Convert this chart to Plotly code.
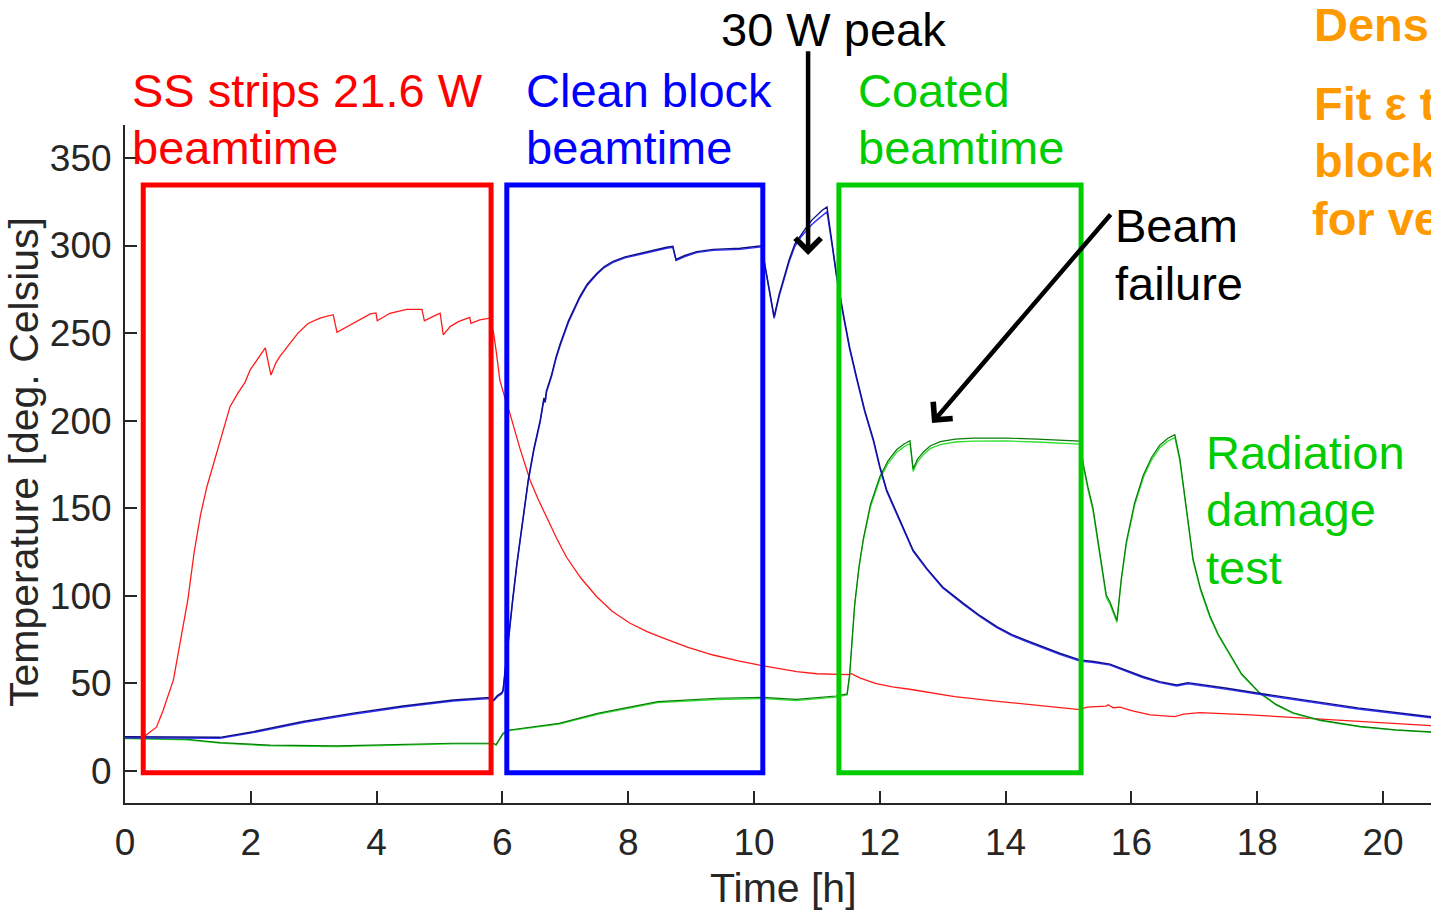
import plotly.graph_objects as go

# ---------------- data ----------------
red_t = [0, 0.3, 0.5, 0.6, 0.77, 0.9, 1.0, 1.1, 1.2, 1.3,
         1.38, 1.45, 1.51, 1.6, 1.67, 1.8, 1.91, 1.99, 2.1, 2.23,
         2.32, 2.4, 2.46, 2.55, 2.62, 2.75, 2.91, 3.1, 3.31, 3.37,
         3.5, 3.63, 3.78, 3.90, 3.99, 4.01, 4.21, 4.48, 4.72, 4.76,
         4.9, 5.01, 5.06, 5.17, 5.3, 5.40, 5.48, 5.50, 5.64, 5.80,
         5.86, 5.9, 5.96, 6.04, 6.12, 6.28, 6.44, 6.57, 6.70, 6.86,
         7.02, 7.25, 7.50, 7.75, 8.03, 8.3, 8.56, 8.95, 9.35, 9.75,
         10.15, 10.68, 11.0, 11.31, 11.5, 11.55, 11.69, 11.93, 12.2, 12.5,
         12.85, 13.19, 13.8, 14.44, 14.7, 15.18, 15.29, 15.6, 15.63, 15.71,
         15.82, 16.0, 16.3, 16.69, 16.83, 17.09, 17.89, 18.95, 20.8]
red_y = [19.5, 19.5, 25, 34, 52, 77, 98, 125, 146, 162,
         172, 180, 187, 199, 208, 216, 222, 229, 235, 241.5,
         226, 233, 236.5, 241, 244, 250, 255.5, 258.5, 260.5, 250.5,
         253, 255.5, 258.5, 261, 261.5, 257, 261.3, 263.5, 263.5, 257,
         259.5, 261.3, 249, 253.7, 256.5, 258, 259, 255.5, 257.5, 258.5,
         250, 240, 223, 213, 204, 184, 166, 155, 145, 133,
         122, 110, 99.5, 91, 84.3, 79.5, 75.8, 70.5, 66.2, 62.8,
         60, 56.7, 55.5, 55, 55, 55.5, 53, 50, 48, 46.5,
         44.3, 42.4, 40, 37.7, 36.4, 35, 36.4, 37, 37.8, 36.1,
         36.4, 34.5, 32, 31, 32.5, 33.3, 32, 29.7, 25.8]

blue_t = [0, 0.5, 1.0, 1.51, 2.04, 2.83, 3.63, 4.42, 5.22, 5.80,
          5.86, 5.92, 5.99, 6.01, 6.05, 6.09, 6.16, 6.23, 6.32, 6.41,
          6.5, 6.60, 6.66, 6.68, 6.70, 6.78, 6.85, 6.92, 7.05, 7.23,
          7.35, 7.50, 7.62, 7.76, 7.95, 8.19, 8.4, 8.61, 8.71, 8.76,
          8.9, 9.09, 9.35, 9.78, 10.12, 10.32, 10.4, 10.47, 10.56, 10.65,
          10.75, 10.84, 10.92, 11.0, 11.08, 11.16, 11.25, 11.31, 11.42, 11.52,
          11.63, 11.76, 11.9, 12.0, 12.11, 12.2, 12.32, 12.42, 12.53, 12.75,
          13.0, 13.33, 13.6, 13.86, 14.1, 14.31, 14.7, 14.86, 15.18, 15.4,
          15.66, 15.77, 16.0, 16.19, 16.45, 16.72, 16.9, 17.2, 17.52, 18.0,
          18.57, 19.6, 20.8]
blue_a = [19.5, 19.3, 19.0, 19.2, 22.4, 28.2, 33, 37.1, 40.5, 41.9,
          40.5, 43, 44.7, 46, 60, 74.8, 97, 118.6, 143, 166,
          184, 200, 213, 211, 217, 226, 236, 244, 257, 270.8,
          278, 284, 288, 291, 293.5, 295.6, 297.3, 299, 299.5, 292,
          294.3, 296.5, 297.8, 298.4, 299.8, 259.4, 272, 281, 292, 301,
          306.5, 310.8, 314.5, 317.5, 320, 322, 300, 284, 261, 242,
          225, 206, 189, 174, 160.4, 153, 143, 134.5, 126, 115.5,
          105, 95.7, 88.5, 82.4, 77.8, 74.8, 69.5, 67.2, 63.4, 62.5,
          61, 59.5, 56.5, 53.8, 51, 49.1, 50.4, 49, 47.2, 44.5,
          41.5, 36, 30.8]
blue_b = [18.9, 18.8, 18.6, 18.7, 21.9, 27.6, 32.4, 36.5, 39.9, 41.3,
          40.0, 42.4, 44.1, 45.5, 58.5, 73.5, 95.8, 117.5, 142, 165,
          183, 199, 212, 210.3, 216, 225, 235, 243, 256, 270,
          277.3, 283.4, 287.4, 290.4, 292.9, 295, 296.7, 298.4, 298.9, 291.4,
          293.7, 295.9, 297.2, 297.8, 299.2, 258.4, 271, 280, 290.8, 299.5,
          305, 308.8, 312, 314.5, 317, 319.3, 298, 282.5, 259.8, 240.8,
          224, 205, 188, 173, 159.5, 152.2, 142.3, 133.8, 125.4, 115,
          104.4, 95.1, 87.9, 81.8, 77.2, 74.2, 68.9, 66.6, 62.8, 61.9,
          60.4, 58.9, 55.9, 53.2, 50.4, 48.5, 49.8, 48.4, 46.6, 43.9,
          40.9, 35.4, 30.2]

green_t = [0, 0.98, 1.51, 2.31, 3.37, 4.42, 5.22, 5.86, 5.9, 6.01,
           6.11, 6.9, 7.53, 8.47, 9.41, 10.14, 10.67, 11.3, 11.48, 11.52,
           11.56, 11.6, 11.67, 11.74, 11.85, 12.0, 12.13, 12.27, 12.38, 12.48,
           12.53, 12.6, 12.69, 12.8, 12.96, 13.2, 13.49, 14.02, 14.5, 15.18,
           15.24, 15.31, 15.39, 15.5, 15.6, 15.66, 15.72, 15.77, 15.84, 15.92,
           16.05, 16.19, 16.32, 16.45, 16.58, 16.69, 16.77, 16.87, 16.98, 17.1,
           17.25, 17.38, 17.52, 17.75, 18.04, 18.3, 18.57, 19.0, 19.63, 20.2,
           20.8]
green_a = [18.7, 18.1, 16.2, 14.7, 14.3, 15.2, 15.8, 15.8, 15.0, 21.5,
           23.4, 27.2, 33, 39.6, 41.5, 42, 40.9, 42.8, 44, 55,
           75, 95, 117, 133, 152, 168, 177, 183.5, 186.5, 188.5,
           172.5, 178, 182, 185.5, 188, 189.5, 190, 190, 189.5, 188.3,
           174.5, 162, 150, 125, 100.5, 96.5, 91, 86, 110, 131,
           153, 169, 179, 186, 190, 192, 178.5, 150, 121, 104,
           88.5, 78, 69.5, 55.5, 44.6, 38, 33.2, 29, 25.4, 23.5,
           22.2]
green_b = [18.4, 17.8, 15.9, 14.3, 13.9, 14.8, 15.4, 15.4, 14.7, 21.0,
           23.0, 26.7, 32.4, 39.0, 40.8, 41.3, 40.2, 42.1, 43.4, 54,
           74, 94, 116, 132, 150.5, 166.5, 175.5, 182, 185, 186.8,
           171, 176.5, 180.5, 184, 186.3, 187.8, 188.3, 188.4, 187.8, 186.6,
           173, 160.5, 148.5, 123.8, 99, 95, 89.8, 84.8, 109, 129.5,
           151.5, 167.5, 177.5, 184.5, 188.3, 190.3, 177, 149, 120, 103,
           87.5, 77.3, 68.8, 55, 44.2, 37.7, 32.8, 28.7, 25.2, 23.3,
           22.0]

x_ticks = [0, 2, 4, 6, 8, 10, 12, 14, 16, 18, 20]
y_ticks = [0, 50, 100, 150, 200, 250, 300, 350]

# highlighted beamtime windows: (t_start, t_end, T_low, T_high, colour)
boxes = [(0.29, 5.82, -1.1, 334.6, "#FF0000"),
         (6.07, 10.14, -1.1, 334.6, "#0000FF"),
         (11.35, 15.2, -1.1, 334.6, "#00CC00")]

X_RANGE = [0, 20.763]
Y_RANGE = [-18.3, 368.8]

FONT = "Liberation Sans, Arial, Helvetica, sans-serif"
AX = "#262626"

fig = go.Figure()
fig.add_trace(go.Scatter(x=red_t, y=red_y, mode="lines", line=dict(color="#FF1a1a", width=1.3)))
fig.add_trace(go.Scatter(x=green_t, y=green_b, mode="lines", line=dict(color="#2ee02e", width=1.3)))
fig.add_trace(go.Scatter(x=green_t, y=green_a, mode="lines", line=dict(color="#0a7a0a", width=1.2)))
fig.add_trace(go.Scatter(x=blue_t, y=blue_b, mode="lines", line=dict(color="#3030ff", width=1.4)))
fig.add_trace(go.Scatter(x=blue_t, y=blue_a, mode="lines", line=dict(color="#10108a", width=1.4)))

for x0, x1, y0, y1, c in boxes:
    fig.add_shape(type="rect", xref="x", yref="y", x0=x0, x1=x1, y0=y0, y1=y1,
                  line=dict(color=c, width=5), fillcolor="rgba(0,0,0,0)")

# plot area on screen
L, T, W, H = 125, 125, 1306, 678


def px(xp):
    return (xp - L) / W


def py(yp):
    return (T + H - yp) / H


def label(text, xp, yp, color, bold=False):
    fig.add_annotation(text=("<b>%s</b>" % text) if bold else text,
                       xref="paper", yref="paper", x=px(xp), y=py(yp),
                       xanchor="left", yanchor="middle", showarrow=False, borderpad=0,
                       font=dict(family=FONT, size=47, color=color))


label("SS strips 21.6 W", 131, 90, "#FF0000")
label("beamtime", 131, 147, "#FF0000")
label("Clean block", 525, 90, "#0000FF")
label("beamtime", 525, 147, "#0000FF")
label("Coated", 857, 90, "#00CC00")
label("beamtime", 857, 147, "#00CC00")
label("30 W peak", 720, 30, "#000000")
label("Beam", 1114, 225, "#000000")
label("failure", 1114, 283, "#000000")
label("Radiation", 1205, 452, "#00CC00")
label("damage", 1205, 510, "#00CC00")
label("test", 1205, 567, "#00CC00")
label("Density", 1313, 25, "#FF9900", bold=True)
label("Fit ε to", 1313, 103, "#FF9900", bold=True)
label("block data", 1313, 160, "#FF9900", bold=True)
label("for verification", 1311, 218, "#FF9900", bold=True)

# arrows (head, tail) in data coordinates
arrows = [((10.86, 294.6), (10.86, 411.7)),
          ((12.83, 198.7), (15.69, 318.6))]
for (hx, hy), (tx, ty) in arrows:
    fig.add_annotation(x=hx, y=hy, ax=tx, ay=ty, xref="x", yref="y", axref="x", ayref="y",
                       text="", showarrow=True, arrowhead=4, arrowsize=1.1, arrowwidth=4.5,
                       arrowcolor="#000000", standoff=0)

# axis titles
fig.add_annotation(text="Time [h]", xref="paper", yref="paper", x=px(783), y=py(888),
                   xanchor="center", yanchor="middle", showarrow=False,
                   font=dict(family=FONT, size=41, color=AX))
fig.add_annotation(text="Temperature [deg. Celsius]", xref="paper", yref="paper",
                   x=px(24), y=py(462), xanchor="center", yanchor="middle", textangle=-90,
                   showarrow=False, font=dict(family=FONT, size=41, color=AX))

fig.update_xaxes(range=X_RANGE, tickvals=x_ticks, ticktext=[str(v) for v in x_ticks],
                 showgrid=False, zeroline=False, showline=True, linecolor=AX, linewidth=2,
                 ticks="inside", ticklen=12, tickwidth=2, tickcolor=AX,
                 tickfont=dict(family=FONT, size=37, color=AX), ticklabelstandoff=6)
fig.update_yaxes(range=Y_RANGE, tickvals=y_ticks, ticktext=[str(v) for v in y_ticks],
                 showgrid=False, zeroline=False, showline=True, linecolor=AX, linewidth=2,
                 ticks="inside", ticklen=12, tickwidth=2, tickcolor=AX,
                 tickfont=dict(family=FONT, size=37, color=AX), ticklabelstandoff=4)

fig.update_layout(width=1431, height=911,
                  margin=dict(l=L, r=1431 - L - W, t=T, b=911 - T - H),
                  plot_bgcolor="white", paper_bgcolor="white", showlegend=False,
                  hovermode=False,
                  font=dict(family=FONT, color=AX))

# remove the page's default body margin so the figure fills the window exactly
fig.write_html("out.html", config={"displayModeBar": False, "staticPlot": True},
               post_script="document.body.style.margin='0';document.body.style.overflow='hidden';")
